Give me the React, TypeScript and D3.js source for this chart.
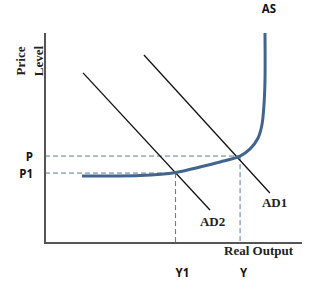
import React from "react"
import * as d3 from "d3"

// chart values, in percent of the axis extent
const asCurve: [number, number][] = [
    [14.4, 31.9],
    [25.3, 31.9],
    [37.0, 32.1],
    [51.0, 33.6],
    [60.3, 36.2],
    [68.1, 38.6],
    [75.9, 41.4],
    [79.8, 44.8],
    [82.9, 50.0],
    [84.4, 56.2],
    [85.2, 65.7],
    [85.6, 77.6],
    [85.6, 100],
]
const adNames = ["AD1", "AD2"]
const adLines: [number, number][][] = [
    [[38.5, 89.5], [87.5, 23.8]],
    [[14.8, 81.0], [64.2, 15.7]],
]
const priceNames = ["P", "P1"]
const priceLevels = [41.4, 33.3]
const outputNames = ["Y", "Y1"]
const outputLevels = [75.9, 50.8]

const W = 315
const H = 285
const serif = "'Liberation Serif', 'Times New Roman', serif"
const sans = "'Open Sans', 'Liberation Sans', sans-serif"
const blue = "#41658f"
const dash = "#5a7a9a"

export default function App() {
    const x = d3.scaleLinear().domain([0, 100]).range([45, 302])
    const y = d3.scaleLinear().domain([0, 100]).range([243, 33])

    const asPath = d3
        .line<[number, number]>()
        .x((d) => x(d[0]))
        .y((d) => y(d[1]))
        .curve(d3.curveCatmullRom)(asCurve)

    const asTop = asCurve[asCurve.length - 1]

    return (
        <svg
            width={W}
            height={H}
            style={{ position: "absolute", left: 0, top: 0, background: "#fff" }}
        >
            {/* dashed guides */}
            {priceLevels.map((p, i) => {
                const xEnd = outputLevels[i]
                return (
                    <g key={"g" + i} stroke={dash} strokeWidth={1} strokeDasharray="5,3">
                        <line x1={x(0)} x2={x(xEnd)} y1={y(p)} y2={y(p)} />
                        <line x1={x(xEnd)} x2={x(xEnd)} y1={y(p)} y2={y(0)} />
                    </g>
                )
            })}

            {/* AD lines */}
            {adLines.map((l, i) => (
                <line
                    key={adNames[i]}
                    x1={x(l[0][0])}
                    y1={y(l[0][1])}
                    x2={x(l[1][0])}
                    y2={y(l[1][1])}
                    stroke="#111"
                    strokeWidth={1.3}
                />
            ))}

            {/* AS curve */}
            <path d={asPath || ""} fill="none" stroke={blue} strokeWidth={3} />

            {/* axes */}
            <line x1={x(0)} x2={x(0)} y1={y(100)} y2={y(0) + 1} stroke="#555" strokeWidth={2} />
            <line x1={x(0)} x2={x(100)} y1={y(0)} y2={y(0)} stroke="#555" strokeWidth={2} />

            {/* labels */}
            <g fontFamily={serif} fontWeight="bold" fontSize={13} fill="#222">
                <text transform={`translate(25,61) rotate(-90)`} textAnchor="middle">
                    Price
                </text>
                <text transform={`translate(43,61) rotate(-90)`} textAnchor="middle">
                    Level
                </text>
                <text x={x(100) - 9} y={y(0) + 12} textAnchor="end">
                    Real Output
                </text>
                <text x={x(adLines[0][1][0]) - 8} y={y(adLines[0][1][1]) + 14}>
                    {adNames[0]}
                </text>
                <text x={x(adLines[1][1][0]) - 10} y={y(adLines[1][1][1]) + 16}>
                    {adNames[1]}
                </text>
            </g>
            <g fontFamily={sans} fontWeight="bold" fontSize={11.5} fill="#111">
                <text x={x(asTop[0]) + 4} y={y(asTop[1]) - 20} textAnchor="middle">
                    AS
                </text>
                {priceLevels.map((p, i) => (
                    <text key={priceNames[i]} x={x(0) - 12} y={y(p) + 4.5} textAnchor="end">
                        {priceNames[i]}
                    </text>
                ))}
                {outputLevels.map((o, i) => (
                    <text key={outputNames[i]} x={x(o)} y={277}>
                        {outputNames[i]}
                    </text>
                ))}
            </g>
        </svg>
    )
}
